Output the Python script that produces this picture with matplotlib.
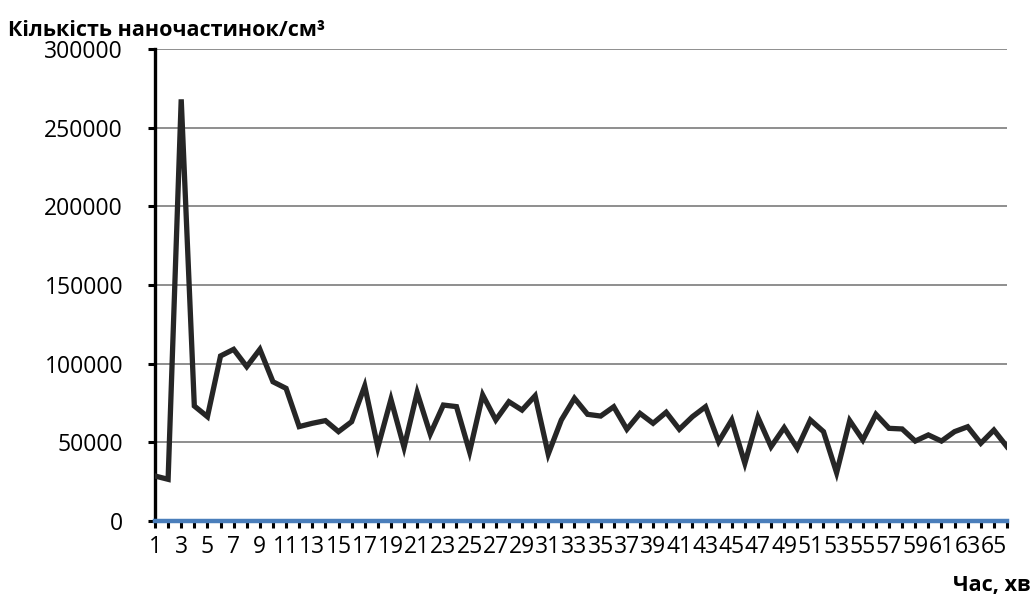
import matplotlib
matplotlib.use("Agg")
import matplotlib.pyplot as plt
import numpy as np

minutes = list(range(1, 67))
particles = [28600, 26500, 268000, 73100, 66300, 104900, 109100, 98100, 109100, 88500,
             84300, 60000, 62100, 63800, 56800, 63100, 85800, 46800, 77300, 46800,
             81600, 55300, 73700, 72700, 44000, 80100, 64200, 75800, 70500, 79600,
             42500, 64200, 78000, 67800, 66700, 72600, 58300, 68400, 62100, 69100,
             58300, 66300, 72600, 50400, 64200, 36700, 65900, 47200, 59300, 46200,
             64200, 56800, 30700, 63800, 51500, 67800, 58900, 58500, 50800, 54700,
             50800, 56800, 59900, 49400, 57800, 47200]
baseline = [0] * len(minutes)
y_ticks = [0, 50000, 100000, 150000, 200000, 250000, 300000]
y_title = "Кількість наночастинок/см³"
x_title = "Час, хв"

plt.rcParams['font.family'] = ['Open Sans', 'DejaVu Sans']

fig = plt.figure(figsize=(10.35, 6.12), dpi=100)
ax = fig.add_axes([155/1035, 1-521/612, (1007-155)/1035, (521-49)/612])

for yt in y_ticks[1:]:
    ax.axhline(yt, color='#868686', lw=1.3, zorder=1)

ax.plot(minutes, particles, color='#262626', lw=3.8, solid_joinstyle='miter', zorder=3)
ax.plot(minutes, baseline, color='#4a7ebb', lw=3.2, zorder=4, clip_on=False)

ax.set_xlim(1, 66)
ax.set_ylim(0, 300000)
ax.set_yticks(y_ticks)
ax.set_yticklabels([str(v) for v in y_ticks], fontsize=16.5)
ax.set_xticks(minutes)
ax.set_xticklabels([str(m) if m % 2 == 1 else "" for m in minutes], fontsize=16.5)

for s in ['top', 'right', 'bottom']:
    ax.spines[s].set_visible(False)
ax.spines['left'].set_linewidth(2.4)
ax.spines['left'].set_color('black')

ax.tick_params(axis='y', direction='out', length=5, width=2.2, pad=18, colors='black')
ax.tick_params(axis='x', direction='out', length=5, width=2.2, pad=5, colors='black')

fig.text(8/1035, 1-30/612, y_title, fontsize=15.5, fontweight='bold', ha='left', va='center')
fig.text(1031/1035, 1-585/612, x_title, fontsize=15.5, fontweight='bold', ha='right', va='center')

fig.savefig("out.png", dpi=100)
